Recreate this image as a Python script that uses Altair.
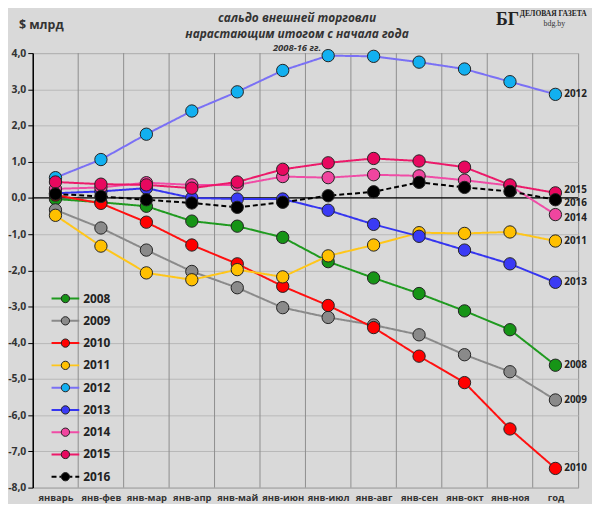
import altair as alt
import pandas as pd

months = ["январь", "янв-фев", "янв-мар", "янв-апр", "янв-май", "янв-июн",
          "янв-июл", "янв-авг", "янв-сен", "янв-окт", "янв-ноя", "год"]
years = ["2008", "2009", "2010", "2011", "2012", "2013", "2014", "2015", "2016"]

v2008 = [-0.03, -0.12, -0.23, -0.64, -0.78, -1.09, -1.76, -2.21, -2.64, -3.12, -3.64, -4.62]
v2009 = [-0.33, -0.83, -1.44, -2.03, -2.48, -3.03, -3.30, -3.51, -3.78, -4.33, -4.80, -5.58]
v2010 = [0.08, -0.15, -0.67, -1.30, -1.82, -2.44, -2.97, -3.58, -4.37, -5.10, -6.38, -7.47]
v2011 = [-0.48, -1.33, -2.07, -2.26, -1.98, -2.18, -1.60, -1.30, -0.96, -0.98, -0.94, -1.19]
v2012 = [0.56, 1.06, 1.76, 2.40, 2.93, 3.52, 3.93, 3.91, 3.75, 3.56, 3.21, 2.86]
v2013 = [0.13, 0.18, 0.27, 0.00, -0.03, -0.03, -0.34, -0.73, -1.06, -1.44, -1.82, -2.33]
v2014 = [0.25, 0.29, 0.42, 0.36, 0.36, 0.59, 0.56, 0.64, 0.61, 0.49, 0.34, -0.46]
v2015 = [0.44, 0.38, 0.36, 0.27, 0.44, 0.79, 0.97, 1.09, 1.02, 0.85, 0.36, 0.14]
v2016 = [0.11, 0.04, -0.05, -0.14, -0.26, -0.12, 0.06, 0.17, 0.43, 0.29, 0.18, -0.05]

series = [v2008, v2009, v2010, v2011, v2012, v2013, v2014, v2015, v2016]

line_colors = ["#1f9a1f", "#8a8a8a", "#ff1010", "#ffc61a", "#7a70f5",
               "#3535f0", "#f04ca6", "#ec1a6a", "#000000"]
fill_colors = ["#169416", "#8a8a8a", "#ff0000", "#ffc000", "#12b0f0",
               "#3a3af5", "#f0459f", "#e8085f", "#000000"]
dashes = [[1, 0]] * 8 + [[5, 3]]

rows = []
for y, vals in zip(years, series):
    for i, v in enumerate(vals):
        rows.append({"year": y, "idx": i, "month": months[i], "value": v})
df = pd.DataFrame(rows)
mdf = pd.DataFrame({"idx": list(range(len(months))), "month": months})
ldf = pd.DataFrame({"year": years})

W, H = 551, 439
FONT = "Open Sans"

color_scale = alt.Scale(domain=years, range=line_colors)
fill_scale = alt.Scale(domain=years, range=fill_colors)
dash_scale = alt.Scale(domain=years, range=dashes)

xscale = alt.Scale(domain=[-0.5, 11.5], nice=False, zero=False)
yscale = alt.Scale(domain=[-8, 4], nice=False)

month_expr = "[" + ",".join("'%s'" % m for m in months) + "][datum.value]"

x_axis = alt.Axis(values=list(range(12)), labelExpr=month_expr, grid=False,
                  ticks=False, domain=False, title=None, labelFont=FONT,
                  labelFontSize=9.5, labelFontWeight="bold", labelColor="#333",
                  labelPadding=5, labelOverlap=False)
y_axis = alt.Axis(values=list(range(-8, 5)), title=None, tickCount=13,
                  labelExpr="replace(replace(format(datum.value, '.1f'), '.', ','), '\u2212', '-')",
                  grid=True, gridColor="#b8b8b8", gridWidth=1,
                  domainColor="#000", domainWidth=1.5, tickColor="#000", tickSize=5,
                  labelFont=FONT, labelFontSize=10.5, labelFontWeight="bold",
                  labelColor="#333", labelPadding=2, labelOverlap=False,
                  labelFlush=False)

def X(field):
    return alt.X(field, scale=xscale, axis=x_axis, title=None)

def Y(field):
    return alt.Y(field, scale=yscale, axis=y_axis, title=None)

vgrid = alt.Chart(mdf).transform_filter("datum.idx < 11").transform_calculate(
    b="datum.idx + 0.5").mark_rule(color="#8e8e8e", strokeWidth=1).encode(
    x=X("b:Q"), y=alt.value(0), y2=alt.value(H))

zero = alt.Chart(pd.DataFrame({"z": [0]})).mark_rule(color="#000", strokeWidth=1.2).encode(
    y=Y("z:Q"))

base = alt.Chart(df)
lines = base.mark_line(strokeWidth=2).encode(
    x=X("idx:Q"), y=Y("value:Q"),
    color=alt.Color("year:N", scale=color_scale, legend=None),
    strokeDash=alt.StrokeDash("year:N", scale=dash_scale, legend=None),
    detail="year:N")
points = base.mark_point(filled=True, size=155, opacity=1, stroke="#222", strokeWidth=1).encode(
    x=X("idx:Q"), y=Y("value:Q"),
    fill=alt.Fill("year:N", scale=fill_scale, legend=None),
    order=alt.Order("year:N"))

def endlabel(filt, dy):
    return base.transform_filter(filt).mark_text(
        align="left", baseline="middle", dx=9, dy=dy, font=FONT, fontSize=10,
        fontWeight="bold", color="#222").encode(
        x=X("idx:Q"), y=Y("value:Q"), text="year:N")

endlabels = [
    endlabel("datum.idx == 11 && indexof(['2014','2015','2016'], datum.year) < 0", 0),
    endlabel("datum.idx == 11 && datum.year == '2015'", -3),
    endlabel("datum.idx == 11 && datum.year == '2016'", 3),
    endlabel("datum.idx == 11 && datum.year == '2014'", 3),
]

def label(txt, x, y, **kw):
    return alt.Chart(pd.DataFrame({"t": [txt]})).mark_text(**kw).encode(
        text="t:N", x=alt.value(x), y=alt.value(y))

titles = [
    label("сальдо внешней торговли", 267, -35, align="center", baseline="middle",
          font=FONT, fontSize=12, fontStyle="italic", fontWeight="bold", color="#333"),
    label("нарастающим итогом с начала года", 267, -19, align="center", baseline="middle",
          font=FONT, fontSize=12, fontStyle="italic", fontWeight="bold", color="#333"),
    label("2008-16 гг.", 267, -5, align="center", baseline="middle",
          font=FONT, fontSize=9.5, fontStyle="italic", fontWeight="bold", color="#333"),
    label("$ млрд", -14, -28, align="left", baseline="middle",
          font=FONT, fontSize=12.5, fontWeight="bold", color="#333"),
    label("БГ", 468, -33, align="left", baseline="middle",
          font="Liberation Serif", fontSize=18, fontWeight="bold", color="#222"),
    label("ДЕЛОВАЯ ГАЗЕТА", 492, -39, align="left", baseline="middle",
          font="Liberation Serif", fontSize=7.6, fontWeight="bold", color="#222"),
    label("bdg.by", 527, -29, align="center", baseline="middle",
          font="Liberation Serif", fontSize=8, color="#333"),
]

main = alt.layer(vgrid, zero, lines, points, *endlabels, *titles)

ly = alt.Y("year:N", scale=alt.Scale(type="point", domain=years, range=[248, 428], padding=0),
           axis=None)
leg_lines = alt.Chart(ldf).mark_rule(strokeWidth=2).encode(
    x=alt.value(19), x2=alt.value(47), y=ly,
    color=alt.Color("year:N", scale=color_scale, legend=None),
    strokeDash=alt.StrokeDash("year:N", scale=dash_scale, legend=None))
leg_pts = alt.Chart(ldf).mark_point(filled=True, size=70, opacity=1, stroke="#222",
                                     strokeWidth=1).encode(
    x=alt.value(33), y=ly, fill=alt.Fill("year:N", scale=fill_scale, legend=None))
leg_txt = alt.Chart(ldf).mark_text(align="left", baseline="middle", font=FONT, fontSize=12,
                                   fontWeight="bold", color="#222").encode(
    x=alt.value(51), y=ly, text="year:N")
legend = alt.layer(leg_lines, leg_pts, leg_txt)

chart = alt.layer(main, legend).resolve_scale(y="independent").properties(
    width=W, height=H,
    padding={"left": 25, "top": 43, "right": 14, "bottom": 14},
    autosize=alt.AutoSizeParams(type="none"),
    background="#d9d9d9",
).configure_view(fill="#d9d9d9", stroke="#8e8e8e", strokeWidth=1)

chart.save("out.html", embed_options={"renderer": "svg", "actions": False})
